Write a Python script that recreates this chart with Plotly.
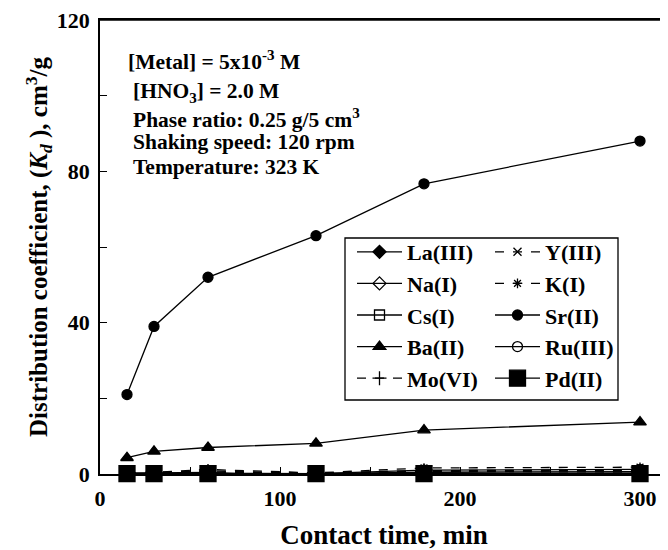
import plotly.graph_objects as go

time_min = [15, 30, 60, 120, 180, 300]

la_iii = [0.2, 0.3, 0.4, -0.8, 0.4, -0.3]
y_iii = [0.1, 0.2, 0.5, 0.2, 0.9, 1.0]
na_i = [0.1, 0.1, 0.2, 0.1, 0.5, 0.6]
k_i = [0.3, 0.4, 1.2, 0.3, 1.6, 1.8]
cs_i = [0.0, 0.0, 0.0, 0.0, 0.2, 0.2]
sr_ii = [21, 39, 52, 63, 76.7, 88]
ba_ii = [4.3, 6.0, 7.0, 8.1, 11.6, 13.7]
ru_iii = [0.2, 0.2, 0.3, 0.1, 1.0, 1.2]
mo_vi = [0.3, 0.5, 0.8, 0.2, 0.7, 0.5]
pd_ii = [0.1, 0.1, 0.1, 0.1, 0.1, 0.1]

FONT = "Liberation Serif"

series = [
    ("La(III)", la_iii, "diamond", 10, None, "legend"),
    ("Y(III)", y_iii, "x-thin-open", 8, "dash", "legend2"),
    ("Na(I)", na_i, "diamond-open", 10, None, "legend"),
    ("K(I)", k_i, "asterisk-open", 8, "dash", "legend2"),
    ("Cs(I)", cs_i, "square-open", 10, None, "legend"),
    ("Sr(II)", sr_ii, "circle", 10, None, "legend2"),
    ("Ba(II)", ba_ii, "triangle-up", 11, None, "legend"),
    ("Ru(III)", ru_iii, "circle-open", 10, None, "legend2"),
    ("Mo(VI)", mo_vi, "cross-thin-open", 10, "dash", "legend"),
    ("Pd(II)", pd_ii, "square", 16, None, "legend2"),
]

fig = go.Figure()
for name, vals, sym, size, dash, leg in series:
    fig.add_trace(go.Scatter(
        x=time_min, y=vals, name=name, mode="lines+markers",
        line=dict(color="black", width=1.3, dash=dash),
        marker=dict(symbol=sym, size=size, color="black",
                    line=dict(color="black", width=1.3)),
        legend=leg, cliponaxis=False,
    ))

# page has an 8px body margin, so the figure sits at (8, 8) in the window
OFF = 8
FIG_W, FIG_H = 668 - OFF, 550 - OFF
L, T, W, H = 100, 20, 568, 454   # plot area in window pixels

notes = [
    ("[Metal] = 5x10<sup>-3</sup> M", 126, 60),
    ("[HNO<sub>3</sub>] = 2.0 M", 131, 92),
    ("Phase ratio: 0.25 g/5 cm<sup>3</sup>", 131, 118),
    ("Shaking speed: 120 rpm", 131, 142),
    ("Temperature: 323 K", 131, 167),
]
for txt, px, py in notes:
    fig.add_annotation(
        text=txt, xref="paper", yref="paper",
        x=(px - L) / W, y=(T + H - py) / H,
        xanchor="left", yanchor="middle", showarrow=False,
        font=dict(family=FONT, size=21.5, color="black", weight="bold"),
    )

# legend frame
fig.add_shape(type="rect", xref="paper", yref="paper",
              x0=(345 - L) / W, x1=(618 - L) / W,
              y0=(T + H - 400) / H, y1=(T + H - 238) / H,
              line=dict(color="black", width=1.3), fillcolor="rgba(0,0,0,0)")
# top frame line of the plot area
fig.add_shape(type="line", xref="paper", yref="paper", x0=0, x1=1, y0=1, y1=1,
              line=dict(color="black", width=1.5))

legfont = dict(family=FONT, size=22, color="black", weight="bold")
fig.update_layout(
    width=FIG_W, height=FIG_H,
    margin=dict(l=L - OFF, r=0, t=T - OFF, b=FIG_H - (T - OFF) - H),
    plot_bgcolor="white", paper_bgcolor="white",
    legend=dict(x=(352 - L) / W, y=(T + H - 231) / H, xanchor="left", yanchor="top",
                bgcolor="rgba(0,0,0,0)", borderwidth=0, font=legfont,
                itemwidth=45, tracegroupgap=0),
    legend2=dict(x=(490 - L) / W, y=(T + H - 231) / H, xanchor="left", yanchor="top",
                 bgcolor="rgba(0,0,0,0)", borderwidth=0, font=legfont,
                 itemwidth=45, tracegroupgap=0),
    xaxis=dict(
        range=[0, W / 1.8], tickvals=[0, 100, 200, 300], ticks="inside", ticklen=7,
        tickcolor="black", showgrid=False, zeroline=False, automargin=False,
        showline=True, linecolor="black", linewidth=1.5, mirror=True,
        ticklabelstandoff=4, ticklabeloverflow="allow",
        minor=dict(tickvals=[50, 150, 250], ticks="inside", ticklen=7, tickcolor="black"),
        tickfont=dict(family=FONT, size=22, color="black", weight="bold"),
        title=dict(text="Contact time, min",
                   font=dict(family=FONT, size=27, color="black", weight="bold"),
                   standoff=22),
    ),
    yaxis=dict(
        range=[0, 120], tickvals=[0, 40, 80, 120], ticks="inside", ticklen=7,
        tickcolor="black", showgrid=False, zeroline=False, automargin=False,
        showline=True, linecolor="black", linewidth=1.5, mirror=False,
        ticklabelstandoff=4, ticklabeloverflow="allow",
        minor=dict(tickvals=[20, 60, 100], ticks="inside", ticklen=7, tickcolor="black"),
        tickfont=dict(family=FONT, size=22, color="black", weight="bold"),
        title=dict(text="Distribution coefficient, (<i>K<sub>d</sub></i> ), cm<sup>3</sup>/g",
                   font=dict(family=FONT, size=25, color="black", weight="bold"),
                   standoff=2),
    ),
)

fig.write_html("out.html", config={"displayModeBar": False})
